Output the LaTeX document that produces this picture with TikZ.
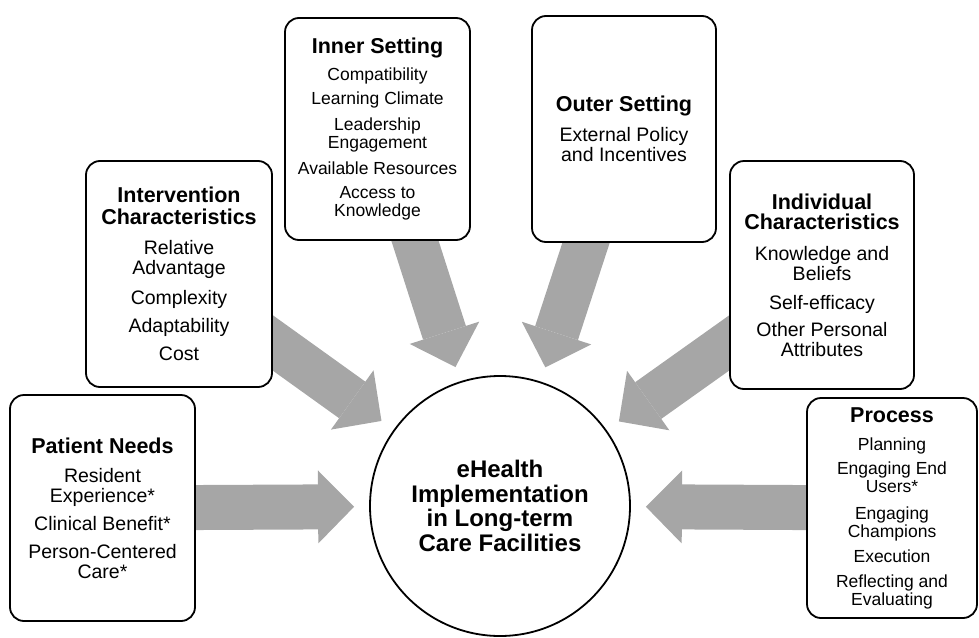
\documentclass[tikz,border=0pt]{standalone}
\usepackage{fontspec}
\setmainfont{Liberation Sans}
\usetikzlibrary{arrows.meta,calc}
\pgfdeclarelayer{bg}
\pgfsetlayers{bg,main}
\definecolor{arrowgray}{RGB}{166,166,166}
\newcommand\ttl[1]{{\fontsize{21.5}{20}\selectfont\bfseries #1}}
\begin{document}
\begin{tikzpicture}[x=1pt,y=-1pt,
  box/.style={draw=black, line width=1.8pt, rounded corners=14pt, fill=white,
    align=center, inner sep=0pt, font=\fontsize{19.5}{20}\selectfont},
  smallbox/.style={box, font=\fontsize{17.5}{18}\selectfont},
  hub/.style={draw=black, circle, line width=1.8pt, fill=white, minimum size=260pt,
    inner sep=0pt, align=center, font=\fontsize{24}{24.5}\selectfont\bfseries},
  fat/.style={draw=arrowgray, line width=45pt, shorten >=15pt,
    -{Triangle[length=36pt,width=73pt,line width=0pt]}},
]
\useasboundingbox (0,0) rectangle (979,637);

\node[hub] (c) at (500,506) {eHealth\\Implementation\\in Long-term\\Care Facilities};

\node[box, minimum width=185pt, minimum height=226pt] (pat) at (102.5,508)
  {\ttl{Patient Needs}\\[9pt]Resident\\Experience*\\[8pt]Clinical Benefit*\\[8pt]Person-Centered\\Care*};

\node[box, minimum width=186pt, minimum height=226pt] (int) at (179,274)
  {\ttl{Intervention}\\[2pt]\ttl{Characteristics}\\[10pt]Relative\\Advantage\\[10pt]Complexity\\[8pt]Adaptability\\[8pt]Cost};

\node[smallbox, minimum width=185pt, minimum height=222pt] (inn) at (377.5,129)
  {\ttl{Inner Setting}\\[9pt]Compatibility\\[6pt]Learning Climate\\[8pt]Leadership\\Engagement\\[8pt]Available Resources\\[6pt]Access to\\Knowledge};

\node[box, minimum width=184pt, minimum height=226pt] (out) at (624,129)
  {\ttl{Outer Setting}\\[10pt]External Policy\\and Incentives};

\node[box, minimum width=184pt, minimum height=228pt] (ind) at (822,275)
  {\ttl{Individual}\\\ttl{Characteristics}\\[11pt]Knowledge and\\Beliefs\\[9pt]Self-efficacy\\[7pt]Other Personal\\Attributes};

\node[smallbox, minimum width=170pt, minimum height=220pt] (proc) at (892,508)
  {\ttl{Process}\\[10pt]Planning\\[6pt]Engaging End\\Users*\\[9pt]Engaging\\Champions\\[7pt]Execution\\[7pt]Reflecting and\\Evaluating};

\begin{pgfonlayer}{bg}
  \coordinate (sint) at ([yshift=-69pt]int.east);
  \coordinate (sinn) at ([xshift=37.5pt]inn.south);
  \coordinate (sout) at ([xshift=-38pt]out.south);
  \coordinate (sind) at ([yshift=-68pt]ind.west);
  \draw[fat] (pat.center) -- (c);
  \draw[fat] (proc.center) -- (c);
  \draw[fat] ($(sint)!-30pt!(c.center)$) -- (c);
  \draw[fat] ($(sinn)!-30pt!(c.center)$) -- (c);
  \draw[fat] ($(sout)!-30pt!(c.center)$) -- (c);
  \draw[fat] ($(sind)!-30pt!(c.center)$) -- (c);
\end{pgfonlayer}
\end{tikzpicture}
\end{document}
